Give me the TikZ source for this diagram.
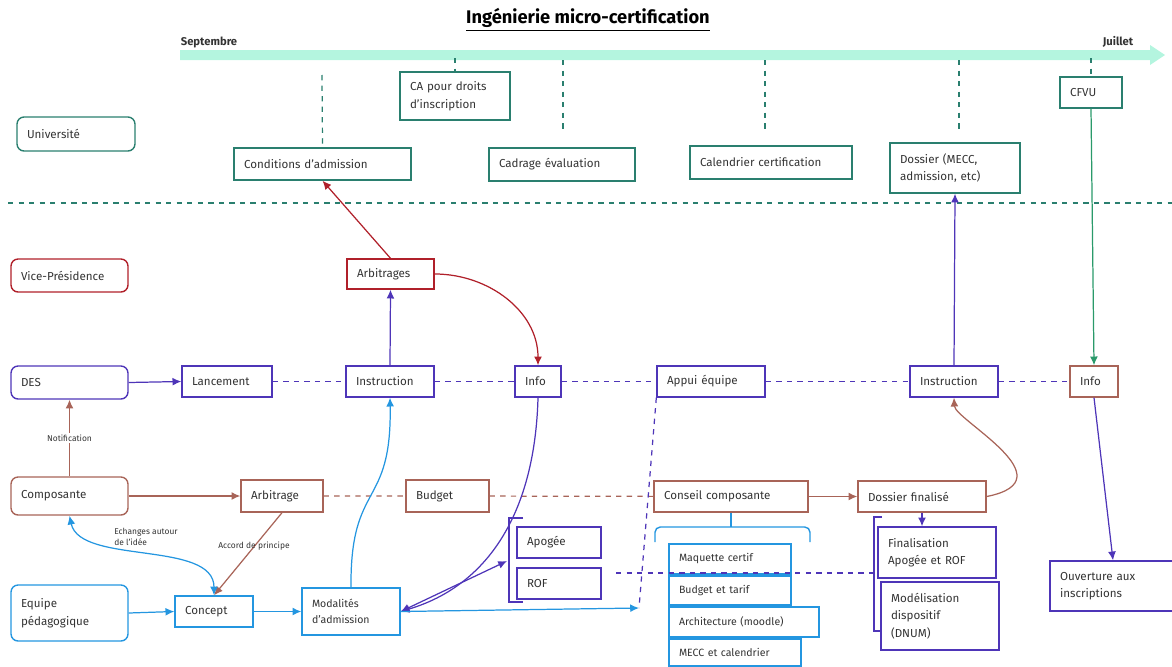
\documentclass[tikz,border=0pt]{standalone}
\usepackage{fontspec}
\setmainfont{Fira Sans}
\usetikzlibrary{arrows.meta}
\definecolor{vertu}{HTML}{2A7F6F}
\definecolor{rouge}{HTML}{B0202A}
\definecolor{pourpre}{HTML}{4E35B8}
\definecolor{brun}{HTML}{A86458}
\definecolor{bleu}{HTML}{2496E0}
\definecolor{vertfl}{HTML}{2A9A6A}
\definecolor{menthe}{HTML}{B4F5DF}

\begin{document}
\begin{tikzpicture}[x=0.02cm, y=-0.02cm, >={Latex[length=5pt,width=4.5pt]},
		boite/.style={draw=#1, line width=0.8pt, text=black!80, inner xsep=0.2cm, inner ysep=0pt, align=left, font=\fontsize{6.6}{10}\selectfont},
		acteur/.style={boite=#1, rounded corners=4pt},
		fleche/.style={->, line width=0.7pt, #1},
		tiret/.style={dashed, line width=0.7pt, #1},
		etiq/.style={text=black!80, align=left, font=\fontsize{4.8}{6.5}\selectfont}]
	\useasboundingbox (0,0) rectangle (1172,666);
	\node[font=\bfseries\fontsize{10.4}{12}\selectfont] (titre) at (588,20) {\underline{Ingénierie micro-certification}};
	\fill[menthe] (180,50) -- (1150,50) -- (1150,45) -- (1165,55) -- (1150,65) -- (1150,60) -- (180,60) -- cycle;
	\node[etiq, font=\fontsize{6.4}{7}\selectfont\bfseries] (sept) at (209,42) {Septembre};
	\node[etiq, font=\fontsize{6.4}{7}\selectfont\bfseries] (juil) at (1118,42) {Juillet};
	\draw[tiret=vertu, line width=0.8pt] (8,203) -- (1172,203);

	\node[acteur=vertu, text width=1.96cm, minimum height=0.68cm] (univ) at (76,134) {Université};
	\node[boite=vertu, text width=3.14cm, minimum height=0.64cm] (condadm) at (322.5,164) {Conditions d'admission};
	\node[boite=vertu, text width=1.8cm, minimum height=0.96cm] (ca) at (455,96) {CA pour droits\\d'inscription};
	\node[boite=vertu, text width=2.52cm, minimum height=0.66cm] (cadrage) at (562,164.5) {Cadrage évaluation};
	\node[boite=vertu, text width=2.84cm, minimum height=0.66cm] (calend) at (771,162.5) {Calendrier certification};
	\node[boite=vertu, text width=2.2cm, minimum height=1cm] (dossier) at (955,168) {Dossier (MECC,\\admission, etc)};
	\node[boite=vertu, text width=0.84cm, minimum height=0.62cm] (cfvu) at (1091,92.5) {CFVU};
	\coordinate (t1) at (322,75);
	\coordinate (t2) at (455,58);
	\coordinate (t3) at (1091,58);
	\draw[tiret=vertu] (t1) -- (condadm.north);
	\draw[tiret=vertu] (t2) -- (ca.north);
	\draw[tiret=vertu] (t3) -- (cfvu.north);
	\foreach \x in {563,765,959}
		\draw[tiret=vertu] (\x,60) -- (\x,130);

	\node[acteur=rouge, text width=1.94cm, minimum height=0.66cm] (vp) at (69.5,275.5) {Vice-Présidence};
	\node[boite=rouge, text width=1.34cm, minimum height=0.6cm] (arbitrages) at (390.5,274) {Arbitrages};

	\node[acteur=pourpre, text width=1.94cm, minimum height=0.66cm] (des) at (69.5,382.5) {DES};
	\node[boite=pourpre, text width=1.4cm, minimum height=0.62cm] (lancement) at (227,381.5) {Lancement};
	\node[boite=pourpre, text width=1.36cm, minimum height=0.62cm] (instr) at (390,381.5) {Instruction};
	\node[boite=pourpre, text width=0.52cm, minimum height=0.62cm] (info) at (538,381.5) {Info};
	\node[boite=pourpre, text width=1.76cm, minimum height=0.62cm] (appui) at (711,381.5) {Appui équipe};
	\node[boite=pourpre, text width=1.36cm, minimum height=0.62cm] (instrb) at (954,381.5) {Instruction};
	\node[boite=brun, text width=0.56cm, minimum height=0.62cm] (infob) at (1094,381.5) {Info};

	\node[acteur=brun, text width=1.94cm, minimum height=0.76cm] (compo) at (69.5,496) {Composante};
	\node[boite=brun, text width=1.24cm, minimum height=0.64cm] (arbitrage) at (282,496) {Arbitrage};
	\node[boite=brun, text width=1.26cm, minimum height=0.64cm] (budget) at (447.5,496) {Budget};
	\node[boite=brun, text width=2.68cm, minimum height=0.62cm] (conseil) at (731,496.5) {Conseil composante};
	\node[boite=brun, text width=2.16cm, minimum height=0.62cm] (dosfin) at (922,496.5) {Dossier finalisé};

	\node[acteur=bleu, text width=1.94cm, minimum height=1.12cm] (equipe) at (69.5,613) {Equipe\\pédagogique};
	\node[boite=bleu, text width=1.16cm, minimum height=0.62cm] (concept) at (214,611.5) {Concept};
	\node[boite=bleu, text width=1.56cm, minimum height=0.94cm, font=\fontsize{6}{9.4}\selectfont] (modal) at (351,611.5) {Modalités\\d'admission};
	\node[boite=pourpre, text width=1.28cm, minimum height=0.62cm] (apogee) at (559,542.5) {Apogée};
	\node[boite=pourpre, text width=1.28cm, minimum height=0.62cm] (rof) at (559,583.5) {ROF};
	\node[boite=bleu, text width=2.04cm, minimum height=0.6cm, font=\fontsize{6}{9}\selectfont] (maquette) at (730,559) {Maquette certif};
	\node[boite=bleu, text width=2.04cm, minimum height=0.58cm, font=\fontsize{6}{9}\selectfont] (budtarif) at (730,590.5) {Budget et tarif};
	\node[boite=bleu, text width=2.6cm, minimum height=0.6cm, font=\fontsize{6}{9}\selectfont] (archi) at (744,622) {Architecture (moodle)};
	\node[boite=bleu, text width=2.24cm, minimum height=0.54cm, font=\fontsize{6}{9}\selectfont] (mecc) at (735,652.5) {MECC et calendrier};
	\node[boite=pourpre, text width=1.96cm, minimum height=1.02cm] (finalis) at (937,552.5) {Finalisation\\Apogée et ROF};
	\node[boite=pourpre, text width=1.96cm, minimum height=1.36cm] (modelis) at (940,616) {Modélisation\\dispositif\\(DNUM)};
	\node[boite=pourpre, text width=2.12cm, minimum height=1cm] (ouverture) at (1113,586) {Ouverture aux\\inscriptions};

	\draw[pourpre, line width=0.8pt] (523,518) -- (509,518) -- (509,602) -- (523,602);
	\draw[pourpre, line width=0.8pt] (882,517) -- (874,517) -- (874,631) -- (882,631);
	\draw[bleu, line width=0.8pt, rounded corners=3pt] (655,542) -- (655,527) -- (810,527) -- (810,542);
	\draw[bleu, line width=0.8pt] (731,527) -- (conseil.south);

	\draw[fleche=rouge] (arbitrages.north) -- (condadm.south);
	\draw[fleche=pourpre] (instr.north) -- (arbitrages.south);
	\draw[fleche=rouge] (arbitrages.east) to[out=0, in=90] (info.north);
	\draw[fleche=pourpre] (des.east) -- (lancement.west);
	\draw[tiret=pourpre] (lancement) -- (instr) -- (info) -- (appui) -- (instrb) -- (infob);
	\draw[fleche=pourpre] (instrb.north) -- (dossier.south);
	\draw[fleche=vertfl] (cfvu.south) -- (infob.north);
	\draw[fleche=pourpre] (infob.south) -- (ouverture.north);
	\draw[fleche=brun] (compo.north) -- node[etiq, fill=white, inner sep=1pt] {Notification} (des.south);
	\draw[fleche=brun] (compo.east) -- (arbitrage.west);
	\draw[tiret=brun] (arbitrage) -- (budget) -- (conseil);
	\draw[fleche=brun] (conseil.east) -- (dosfin.west);
	\draw[fleche=brun] (dosfin.east) .. controls (1070,480) and (955,420) .. (instrb.south);
	\draw[fleche=pourpre] (dosfin.south) -- (dosfin.south |- finalis.north);
	\draw[fleche=brun] (arbitrage.south) -- (concept.north);
	\node[etiq] (accord) at (254,546) {Accord de principe};
	\draw[<->, line width=0.7pt, bleu] (compo.south) .. controls (80,565) and (214,540) .. (concept.north);
	\node[etiq] (echanges) at (146,537) {Echanges autour\\de l'idée};
	\draw[fleche=bleu] (equipe.east) -- (concept.west);
	\draw[fleche=bleu] (concept.east) -- (modal.west);
	\draw[fleche=bleu] (modal.north) .. controls (350,480) and (392,510) .. (instr.south);
	\draw[fleche=pourpre] (info.south) .. controls (535,510) and (490,585) .. (modal.east);
	\coordinate (apobr) at (507,561);
	\draw[<->, line width=0.7pt, pourpre] (modal.east) -- (apobr);
	\coordinate (jonc) at (639,608);
	\draw[fleche=bleu] (modal.east) -- (jonc);
	\draw[tiret=pourpre] (appui.south west) -- (jonc);
	\coordinate (pointil) at (616,573);
	\coordinate (finbr) at (874,573);
	\draw[tiret=pourpre] (pointil) -- (finbr);
\end{tikzpicture}
\end{document}
